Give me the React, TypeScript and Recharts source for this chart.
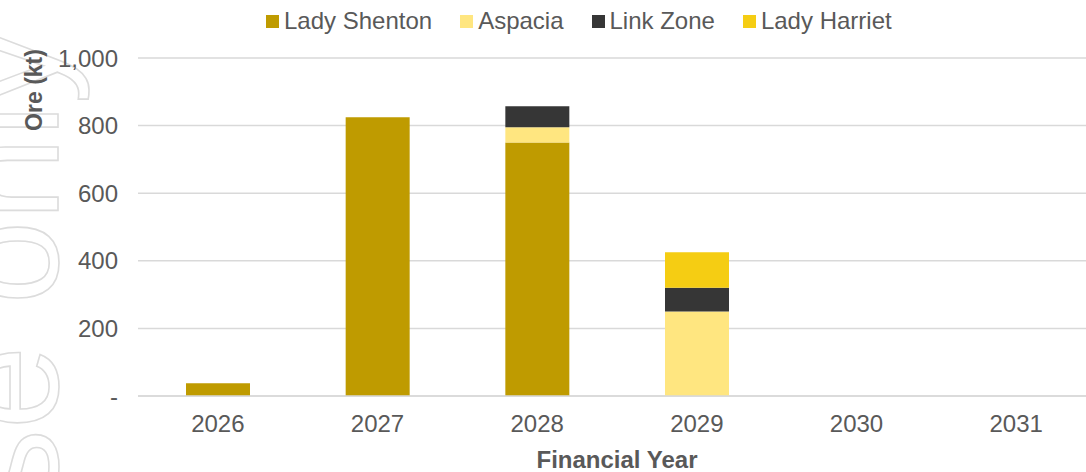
import React from "react";
import { BarChart, Bar, XAxis, YAxis, CartesianGrid } from "recharts";

const years = ["2026", "2027", "2028", "2029", "2030", "2031"];
const ladyShenton = [38, 825, 750, 0, 0, 0];
const aspacia = [0, 0, 45, 250, 0, 0];
const linkZone = [0, 0, 62, 70, 0, 0];
const ladyHarriet = [0, 0, 0, 105, 0, 0];
const yTicks = [0, 200, 400, 600, 800, 1000];

const series = [
  { key: "ladyShenton", name: "Lady Shenton", color: "#BF9B00" },
  { key: "aspacia", name: "Aspacia", color: "#FFE680" },
  { key: "linkZone", name: "Link Zone", color: "#363636" },
  { key: "ladyHarriet", name: "Lady Harriet", color: "#F5CD13" },
];

const data = years.map((year, i) => ({
  year,
  ladyShenton: ladyShenton[i],
  aspacia: aspacia[i],
  linkZone: linkZone[i],
  ladyHarriet: ladyHarriet[i],
}));

const FONT = "'Liberation Sans', Arial, sans-serif";
const TEXT = "#595959";

function Watermark() {
  return (
    <svg
      width={1086}
      height={472}
      style={{ position: "absolute", left: 0, top: 0 }}
    >
      <text
        transform="translate(58,29) rotate(-90)"
        textAnchor="end"
        fontFamily={FONT}
        fontSize={150}
        fill="none"
        stroke="#dcdcdc"
        strokeWidth={1.6}
      >
        For personal use only
      </text>
    </svg>
  );
}

export default function App() {
  return (
    <div
      style={{
        position: "absolute",
        left: 0,
        top: 0,
        width: 1086,
        height: 472,
        overflow: "hidden",
        background: "#fff",
        fontFamily: FONT,
      }}
    >
      <Watermark />
      <div
        style={{
          position: "absolute",
          left: 266,
          top: 7,
          display: "flex",
          gap: 28,
          fontSize: 24,
          color: TEXT,
          whiteSpace: "nowrap",
        }}
      >
        {series.map((s) => (
          <div key={s.key} style={{ display: "flex", alignItems: "center" }}>
            <span
              style={{
                width: 13,
                height: 13,
                background: s.color,
                marginRight: 5,
                display: "inline-block",
              }}
            />
            <span>{s.name}</span>
          </div>
        ))}
      </div>
      <div style={{ position: "absolute", left: 0, top: 0 }}>
        <BarChart
          width={1100}
          height={472}
          data={data}
          margin={{ top: 58, right: 4, bottom: 0, left: 0 }}
        >
          <CartesianGrid
            vertical={false}
            stroke="#d9d9d9"
            strokeWidth={1.5}
          />
          <XAxis
            dataKey="year"
            height={76}
            axisLine={{ stroke: "#d9d9d9", strokeWidth: 1.5 }}
            tickLine={false}
            tickMargin={13}
            tick={{ fill: TEXT, fontSize: 24, fontFamily: FONT }}
            label={(props: any) => {
              const vb = props.viewBox;
              return (
                <text
                  x={vb.x + vb.width / 2}
                  y={vb.y + 72}
                  textAnchor="middle"
                  fill={TEXT}
                  fontSize={24}
                  fontWeight="bold"
                  fontFamily={FONT}
                >
                  Financial Year
                </text>
              );
            }}
          />
          <YAxis
            width={138}
            domain={[0, 1000]}
            ticks={yTicks}
            interval={0}
            axisLine={false}
            tickLine={false}
            tickMargin={14}
            tickFormatter={(v: number) => (v === 0 ? "-" : v.toLocaleString("en-US"))}
            tick={{ fill: TEXT, fontSize: 24, fontFamily: FONT }}
            label={(props: any) => {
              const vb = props.viewBox;
              return (
                <text
                  transform={`translate(${vb.x + 42},${vb.y + 32}) rotate(-90)`}
                  textAnchor="middle"
                  fill={TEXT}
                  fontSize={23}
                  fontWeight="bold"
                  fontFamily={FONT}
                >
                  Ore (kt)
                </text>
              );
            }}
          />
          {series.map((s) => (
            <Bar
              key={s.key}
              dataKey={s.key}
              name={s.name}
              stackId="ore"
              fill={s.color}
              barSize={64}
              isAnimationActive={false}
            />
          ))}
        </BarChart>
      </div>
    </div>
  );
}
